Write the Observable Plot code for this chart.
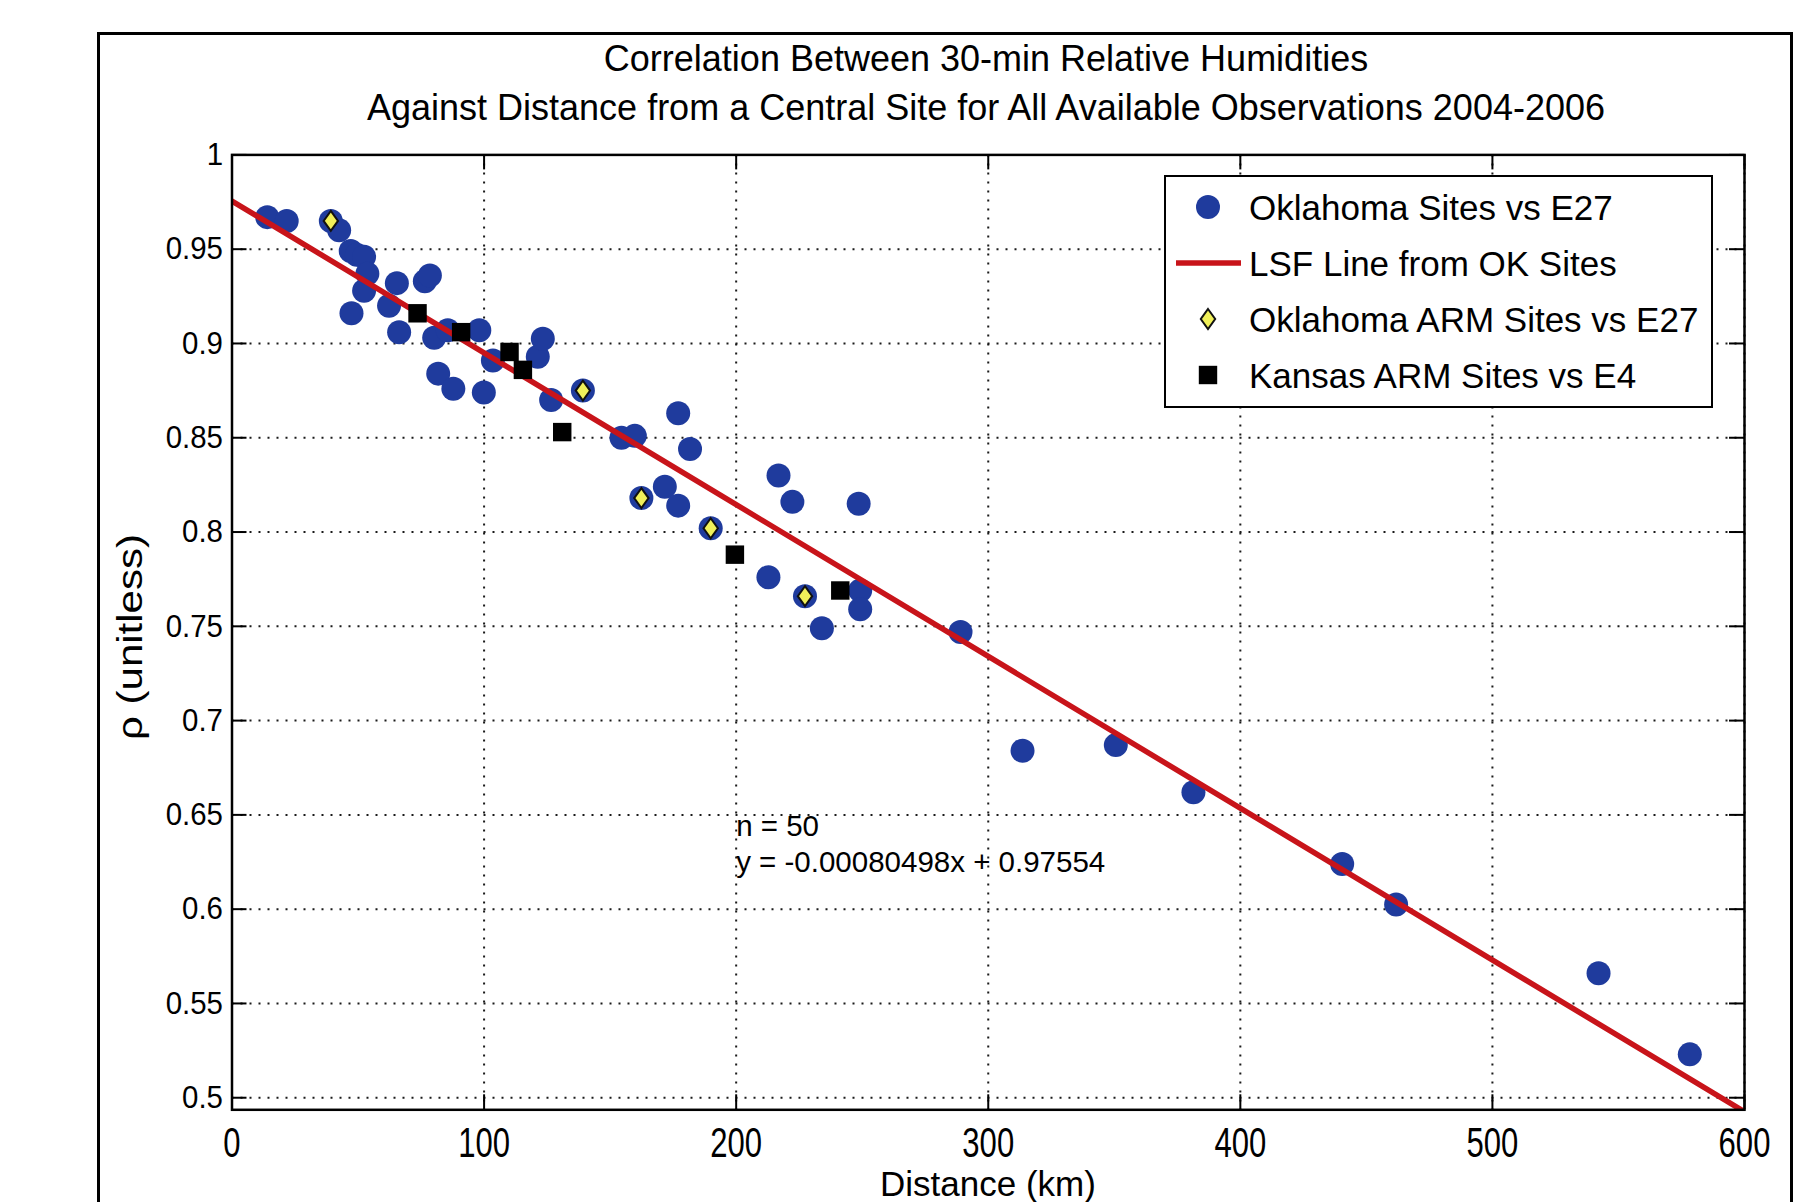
<!DOCTYPE html>
<html>
<head>
<meta charset="utf-8">
<script src="https://cdn.jsdelivr.net/npm/d3@7"></script>
<script src="https://cdn.jsdelivr.net/npm/@observablehq/plot@0.6"></script>
<style>
  html, body { margin: 0; padding: 0; background: #fff; }
  #wrap { position: relative; width: 1813px; height: 1202px; overflow: hidden; background: #fff;
          font-family: "Liberation Sans", Arial, Helvetica, sans-serif; color: #000; }
  #wrap svg.plot { position: absolute; left: 0; top: 0; }
  #outer { position: absolute; left: 97px; top: 32px; width: 1696px; height: 1300px;
           border: 3px solid #000; box-sizing: border-box; pointer-events: none; }
  .title { position: absolute; left: 86px; width: 1800px; text-align: center; font-size: 36px;
           line-height: 43px; white-space: nowrap; }
  #xlabel { position: absolute; left: 488px; width: 1000px; top: 1164px; text-align: center;
            font-size: 35px; line-height: 40px; white-space: nowrap; }
  #ylabel { position: absolute; left: -70px; top: 617px; width: 400px; height: 40px; line-height: 40px;
            text-align: center; font-size: 35px; transform: rotate(-90deg) scaleX(1.2); white-space: nowrap; }
  #legend { position: absolute; left: 1164px; top: 175px; width: 549px; height: 233px;
            border: 2px solid #000; box-sizing: border-box; background: #fff; }
  .row { position: absolute; left: 0; height: 56px; width: 100%; }
  .row svg { position: absolute; left: 10px; top: 0; }
  .row span { position: absolute; left: 83px; top: 10.5px; font-size: 35px; line-height: 35px; white-space: nowrap; }
</style>
</head>
<body>
<div id="wrap">
  <div id="outer"></div>
</div>
<script>
// ---------------- data ----------------
// Oklahoma Sites vs E27 (distance km, correlation)
const okX = [14.0, 21.7, 39.2, 42.5, 47.1, 49.5, 52.4, 53.7, 52.4, 47.4,
             65.4, 62.3, 66.3, 76.5, 78.5, 80.2, 85.6, 81.8, 87.8, 98.1,
             99.9, 103.5, 121.3, 123.3, 126.6, 139.2, 154.5, 159.8, 177.0, 181.7,
             171.7, 177.0, 162.4, 189.9, 216.8, 222.3, 248.6, 212.8, 227.3, 234.0,
             249.2, 249.2, 289.0, 313.6, 350.6, 381.4, 440.4, 461.8, 542.1, 578.3];
const okY = [0.967, 0.965, 0.965, 0.960, 0.949, 0.947, 0.946, 0.937, 0.928, 0.916,
             0.932, 0.920, 0.906, 0.933, 0.936, 0.903, 0.907, 0.884, 0.876, 0.907,
             0.874, 0.891, 0.893, 0.9025, 0.870, 0.875, 0.850, 0.851, 0.863, 0.844,
             0.824, 0.814, 0.818, 0.802, 0.830, 0.816, 0.815, 0.776, 0.766, 0.749,
             0.769, 0.759, 0.747, 0.684, 0.687, 0.662, 0.624, 0.6025, 0.566, 0.523];
// Oklahoma ARM Sites vs E27
const armX = [39.2, 139.2, 162.4, 189.9, 227.3];
const armY = [0.965, 0.875, 0.818, 0.802, 0.766];
// Kansas ARM Sites vs E4
const ksX = [73.6, 90.9, 110.1, 115.4, 131.0, 199.5, 241.3];
const ksY = [0.916, 0.906, 0.8955, 0.886, 0.853, 0.788, 0.769];
// LSF line from OK sites
const lsfSlope = -0.00080498;
const lsfIntercept = 0.97554;
const lsfX = [0, 600];
const nSites = 50;

const xTicks = [0, 100, 200, 300, 400, 500, 600];
const yTicks = [0.5, 0.55, 0.6, 0.65, 0.7, 0.75, 0.8, 0.85, 0.9, 0.95, 1];
const xDomain = [0, 600];
const yDomain = [0.4936, 1];

const titleLines = ["Correlation Between 30-min Relative Humidities",
                    "Against Distance from a Central Site for All Available Observations 2004-2006"];
const xLabel = "Distance (km)";
const yLabel = "ρ (unitless)";
const legendLabels = ["Oklahoma Sites vs E27", "LSF Line from OK Sites",
                      "Oklahoma ARM Sites vs E27", "Kansas ARM Sites vs E4"];
const annotX = 200, annotY = 0.6195;

// ---------------- styles ----------------
const BLUE = "#1f3b9d", RED = "#c8141a", YELLOW = "#f0f05a", BLACK = "#000";
const W = 1813, H = 1202;
const mL = 231.5, mR = 69, mT = 154.4, mB = 92.7;
const fw = W - mL - mR, fh = H - mT - mB;
const TICK = 15;

const ok = okX.map((x, i) => ({x, y: okY[i]}));
const arm = armX.map((x, i) => ({x, y: armY[i]}));
const ks = ksX.map((x, i) => ({x, y: ksY[i]}));
const lsf = lsfX.map(x => ({x, y: lsfSlope * x + lsfIntercept}));
const annotation = `n = ${nSites}\ny = ${lsfSlope.toFixed(8)}x + ${lsfIntercept}`;

const tallDiamond = {
  draw(ctx, size) {
    const r = Math.sqrt(size / Math.PI), w = r * 0.72;
    ctx.moveTo(0, -r); ctx.lineTo(w, 0); ctx.lineTo(0, r); ctx.lineTo(-w, 0); ctx.closePath();
  }
};

const gridStyle = {stroke: "#1a1a1a", strokeOpacity: 1, strokeWidth: 2, strokeDasharray: "2,7"};
const tickStyle = {stroke: BLACK, strokeWidth: 2};

const chart = Plot.plot({
  width: W, height: H,
  marginLeft: mL, marginRight: mR, marginTop: mT, marginBottom: mB,
  style: {fontFamily: '"Liberation Sans", Arial, Helvetica, sans-serif', fontSize: "30px", background: "transparent", color: "#000"},
  x: {domain: xDomain},
  y: {domain: yDomain},
  marks: [
    Plot.ruleX(xTicks, {x: d => d, ...gridStyle}),
    Plot.ruleY(yTicks, {y: d => d, ...gridStyle}),
    // inward ticks on all four sides
    Plot.ruleX(xTicks, {x: d => d, insetTop: fh - TICK, ...tickStyle}),
    Plot.ruleX(xTicks, {x: d => d, insetBottom: fh - TICK, ...tickStyle}),
    Plot.ruleY(yTicks, {y: d => d, insetRight: fw - TICK, ...tickStyle}),
    Plot.ruleY(yTicks, {y: d => d, insetLeft: fw - TICK, ...tickStyle}),
    Plot.axisX({ticks: xTicks, tickSize: 0, tickPadding: 17, fontSize: 42, label: null, tickFormat: d => String(d)}),
    Plot.axisY({ticks: yTicks, tickSize: 0, tickPadding: 9, fontSize: 32, label: null, tickFormat: d => String(+d.toFixed(2))}),
    Plot.dot(ok, {x: "x", y: "y", r: 12, fill: BLUE, stroke: "none"}),
    Plot.line(lsf, {x: "x", y: "y", stroke: RED, strokeWidth: 5.5, clip: true}),
    Plot.dot(arm, {x: "x", y: "y", r: 10, symbol: tallDiamond, fill: YELLOW, stroke: "#111", strokeWidth: 2}),
    Plot.dot(ks, {x: "x", y: "y", r: 10.4, symbol: "square", fill: BLACK, stroke: "none"}),
    Plot.text([annotation], {x: annotX, y: annotY, text: d => d, textAnchor: "start", lineAnchor: "bottom",
                             lineHeight: 1.25, fontSize: 29.5, fill: "#000"}),
    Plot.frame({stroke: BLACK, strokeWidth: 2.5})
  ]
});
chart.classList.add("plot");

// narrow the tick label glyphs to match the reference proportions
function squeeze(selector, sx) {
  chart.querySelectorAll(selector).forEach(t => {
    const tr = t.getAttribute("transform") || "";
    t.setAttribute("transform", tr + ` scale(${sx},1)`);
  });
}
squeeze('g[aria-label="x-axis tick label"] text', 0.74);
squeeze('g[aria-label="y-axis tick label"] text', 0.92);

const wrap = document.getElementById("wrap");
wrap.insertBefore(chart, wrap.firstChild);

// titles
titleLines.forEach((t, i) => {
  const d = document.createElement("div");
  d.className = "title";
  d.style.top = (37 + i * 49) + "px";
  d.textContent = t;
  wrap.appendChild(d);
});
const xl = document.createElement("div"); xl.id = "xlabel"; xl.textContent = xLabel; wrap.appendChild(xl);
const yl = document.createElement("div"); yl.id = "ylabel"; yl.textContent = yLabel; wrap.appendChild(yl);

// legend
const legend = document.createElement("div");
legend.id = "legend";
const rowCenters = [30, 86, 142, 198];
const swatches = [
  `<circle cx="32" cy="28" r="12" fill="${BLUE}"/>`,
  `<line x1="0" x2="65" y1="28" y2="28" stroke="${RED}" stroke-width="5.5"/>`,
  `<path d="M32,18 L39.2,28 L32,38 L24.8,28 Z" fill="${YELLOW}" stroke="#111" stroke-width="2"/>`,
  `<rect x="22.8" y="18.8" width="18.4" height="18.4" fill="${BLACK}"/>`
];
legendLabels.forEach((lab, i) => {
  const row = document.createElement("div");
  row.className = "row";
  row.style.top = (rowCenters[i] - 28) + "px";
  row.innerHTML = `<svg width="66" height="56">${swatches[i]}</svg><span>${lab}</span>`;
  legend.appendChild(row);
});
wrap.appendChild(legend);
</script>
</body>
</html>
